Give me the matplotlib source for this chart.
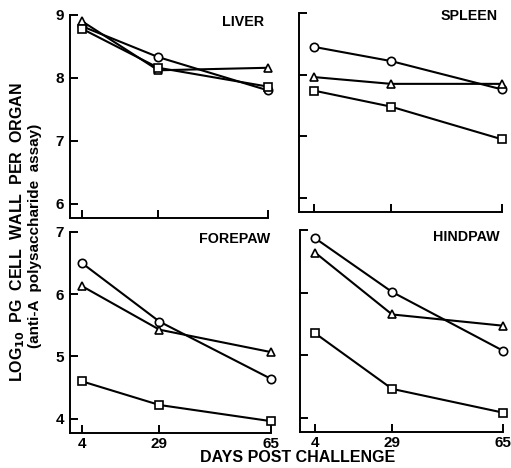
import matplotlib
matplotlib.use("Agg")
import matplotlib.pyplot as plt

plt.rcParams['font.family'] = ['Liberation Sans', 'DejaVu Sans']
plt.rcParams['font.weight'] = 'bold'

# ------------------------------------------------------------
# data
# ------------------------------------------------------------
days = [4, 29, 65]

liver_circle = [8.82, 8.33, 7.80]
liver_triangle = [8.90, 8.12, 8.16]
liver_square = [8.78, 8.16, 7.86]

spleen_circle = [8.45, 8.22, 7.76]
spleen_triangle = [7.96, 7.85, 7.85]
spleen_square = [7.74, 7.48, 6.95]

forepaw_circle = [6.50, 5.56, 4.64]
forepaw_triangle = [6.13, 5.43, 5.07]
forepaw_square = [4.60, 4.22, 3.96]

hindpaw_circle = [6.87, 6.01, 5.07]
hindpaw_triangle = [6.64, 5.65, 5.47]
hindpaw_square = [5.35, 4.46, 4.08]

top_ticks = [6, 7, 8, 9]
bottom_ticks = [4, 5, 6, 7]

panels = [
    ("LIVER", liver_circle, liver_triangle, liver_square),
    ("SPLEEN", spleen_circle, spleen_triangle, spleen_square),
    ("FOREPAW", forepaw_circle, forepaw_triangle, forepaw_square),
    ("HINDPAW", hindpaw_circle, hindpaw_triangle, hindpaw_square),
]

# axes rectangles in figure fraction [left, bottom, width, height]
rects = [
    [0.1366, 0.5342, 0.3879, 0.4338],
    [0.5843, 0.5470, 0.3980, 0.4252],
    [0.1362, 0.0748, 0.3941, 0.4295],
    [0.5863, 0.0769, 0.3980, 0.4316],
]
x_left = [0, -1, 0, -1]
label_offset = [(-4, 0), (-4, 4), (-1, 0), (-3, 0)]

fig = plt.figure(figsize=(5.11, 4.68), dpi=100)

for i, (name, circ, tri, sq) in enumerate(panels):
    ax = fig.add_axes(rects[i])
    mk = dict(color='black', lw=1.5, mfc='white', mec='black', mew=1.2,
              clip_on=False, zorder=3)
    ax.plot(days, circ, marker='o', ms=6, **mk)
    ax.plot(days, tri, marker='^', ms=6, **mk)
    ax.plot(days, sq, marker='s', ms=5.5, **mk)

    top = i < 2
    ticks = top_ticks if top else bottom_ticks
    ax.set_ylim(ticks[0] - 0.23, ticks[-1])
    ax.set_yticks(ticks)
    ax.set_xlim(x_left[i], 65)
    ax.set_xticks(days)

    for s in ('top', 'right'):
        ax.spines[s].set_visible(False)
    for s in ('left', 'bottom'):
        ax.spines[s].set_linewidth(1.4)

    ax.tick_params(direction='in', length=6, width=1.4, labelsize=11)
    ax.tick_params(axis='y', pad=4)
    ax.tick_params(axis='x', pad=3)
    if i % 2 == 1:
        ax.set_yticklabels([])
    if top:
        ax.set_xticklabels([])

    dx, dy = label_offset[i]
    ax.annotate(name, xy=(1, 1), xycoords='axes fraction',
                xytext=(dx * 0.72, dy * 0.72), textcoords='offset points',
                ha='right', va='top', fontsize=10.3, fontweight='bold')

fig.text(0.583, 0.0214, "DAYS POST CHALLENGE", ha='center', va='center',
         fontsize=11.5, fontweight='bold')
fig.text(0.035, 0.505, r"LOG$_{\mathbf{10}}$  PG  CELL  WALL  PER  ORGAN", rotation=90,
         ha='center', va='center', fontsize=11.5, fontweight='bold')
fig.text(0.069, 0.495, "(anti-A  polysaccharide  assay)", rotation=90,
         ha='center', va='center', fontsize=11, fontweight='bold')

fig.savefig("out.png", dpi=100)
